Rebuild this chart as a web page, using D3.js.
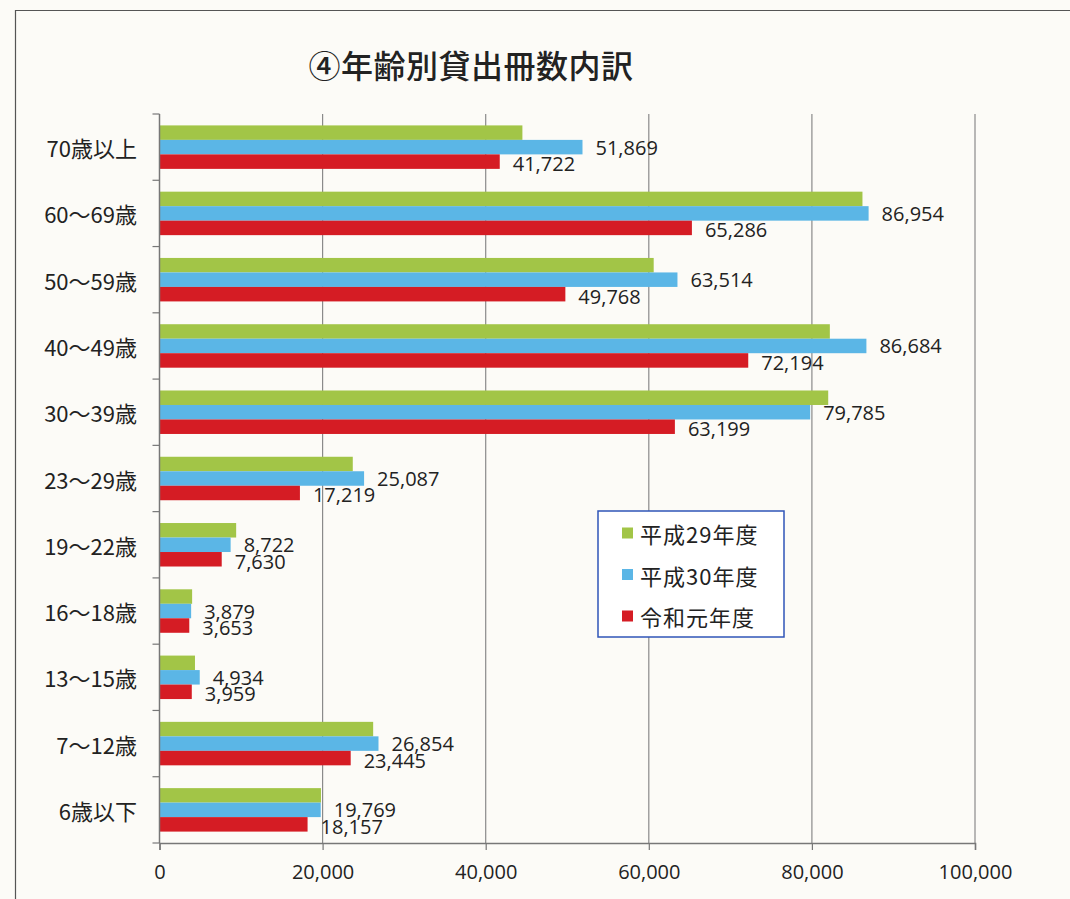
<!DOCTYPE html>
<html>
<head>
<meta charset="utf-8">
<script src="https://cdn.jsdelivr.net/npm/d3@7"></script>
<style>
  body { margin: 0; background: #fcfbf7; }
  svg { display: block; }
</style>
</head>
<body>
<div id="chart"></div>
<script>
// data, top to bottom as in the picture
const categories = ["70歳以上", "60～69歳", "50～59歳", "40～49歳", "30～39歳", "23～29歳",
  "19～22歳", "16～18歳", "13～15歳", "7～12歳", "6歳以下"];
const seriesNames = ["平成29年度", "平成30年度", "令和元年度"];
const h29 = [44500, 86200, 60600, 82200, 82000, 23700, 9400, 4000, 4350, 26200, 19800];
const h30 = [51869, 86954, 63514, 86684, 79785, 25087, 8722, 3879, 4934, 26854, 19769];
const r1 = [41722, 65286, 49768, 72194, 63199, 17219, 7630, 3653, 3959, 23445, 18157];
const xTicks = [0, 20000, 40000, 60000, 80000, 100000];
const labelled = [false, true, true]; // green series has no value labels

const colors = ["#a2c547", "#5bb6e6", "#d51c24"];
const width = 1070, height = 899;

const svg = d3.select("#chart").append("svg")
  .attr("width", width).attr("height", height);

// outer chart border (runs off the right / bottom of the scan)
svg.append("path")
  .attr("d", "M15.5," + height + "V10.5H" + width)
  .attr("fill", "none").attr("stroke", "#555").attr("stroke-width", 1.2);

svg.append("text")
  .attr("x", 471).attr("y", 64)
  .attr("text-anchor", "middle").attr("dominant-baseline", "central")
  .attr("font-family", "'Noto Sans CJK JP', sans-serif")
  .attr("font-size", 32).attr("font-weight", 500).attr("fill", "#222")
  .attr("letter-spacing", 0.5)
  .text("④年齢別貸出冊数内訳");

const plotL = 159.5, plotR = 975, plotT = 114, plotB = 843;

const x = d3.scaleLinear().domain([0, 100000]).range([plotL, plotR]);
const y = d3.scaleBand().domain(categories).range([plotT, plotB])
  .paddingInner(0.344).paddingOuter(0.172);
const ySub = d3.scaleBand().domain(d3.range(3)).range([0, y.bandwidth()]);

// vertical gridlines
svg.append("g").selectAll("line")
  .data(xTicks.slice(1))
  .join("line")
  .attr("x1", d => x(d)).attr("x2", d => x(d))
  .attr("y1", plotT).attr("y2", plotB)
  .attr("stroke", "#8a8a8a").attr("stroke-width", 1.2);

// bars
const series = [h29, h30, r1];
const rows = [];
series.forEach((vals, si) => {
  vals.forEach((v, ci) => rows.push({ si, cat: categories[ci], v }));
});

svg.append("g").selectAll("rect")
  .data(rows)
  .join("rect")
  .attr("x", x(0))
  .attr("y", d => y(d.cat) + ySub(d.si))
  .attr("width", d => x(d.v) - x(0))
  .attr("height", ySub.bandwidth())
  .attr("fill", d => colors[d.si]);

// value labels (blue a touch up, red a touch down, as in the scan)
const fmt = d3.format(",");
svg.append("g").selectAll("text")
  .data(rows.filter(d => labelled[d.si]))
  .join("text")
  .attr("x", d => x(d.v) + 13)
  .attr("y", d => y(d.cat) + ySub(d.si) + ySub.bandwidth() / 2 + (d.si === 1 ? 0 : 2))
  .attr("dominant-baseline", "central")
  .attr("font-family", "'Open Sans', sans-serif")
  .attr("font-size", 20).attr("fill", "#222")
  .text(d => fmt(d.v));

// bottom axis
const xAxis = d3.axisBottom(x).tickValues(xTicks).tickSize(7).tickPadding(15)
  .tickFormat(d3.format(","));
const gx = svg.append("g").attr("transform", "translate(0," + plotB + ")").call(xAxis);
gx.select(".domain").attr("stroke", "#777").attr("stroke-width", 1.5);
gx.selectAll(".tick line").attr("stroke", "#777").attr("stroke-width", 1.2);
gx.selectAll(".tick text")
  .attr("font-family", "'Open Sans', sans-serif")
  .attr("font-size", 20).attr("fill", "#222");

// left axis: ticks at category boundaries
const step = y.step();
const boundaries = d3.range(categories.length + 1).map(i => plotT + i * step);
svg.append("line")
  .attr("x1", plotL).attr("x2", plotL).attr("y1", plotT).attr("y2", plotB)
  .attr("stroke", "#777").attr("stroke-width", 1.5);
svg.append("g").selectAll("line")
  .data(boundaries)
  .join("line")
  .attr("x1", plotL - 7).attr("x2", plotL)
  .attr("y1", d => d).attr("y2", d => d)
  .attr("stroke", "#777").attr("stroke-width", 1.2);

svg.append("g").selectAll("text")
  .data(categories)
  .join("text")
  .attr("x", 137)
  .attr("y", d => y(d) + y.bandwidth() / 2)
  .attr("text-anchor", "end").attr("dominant-baseline", "central")
  .attr("font-family", "'Noto Sans CJK JP', sans-serif")
  .attr("font-size", 22).attr("fill", "#222")
  .text(d => d);

// legend
const legend = svg.append("g").attr("transform", "translate(598,511)");
legend.append("rect")
  .attr("width", 186).attr("height", 126)
  .attr("fill", "#fff").attr("stroke", "#2f55b8").attr("stroke-width", 1.5);
const item = legend.selectAll("g")
  .data(seriesNames)
  .join("g")
  .attr("transform", (d, i) => "translate(0," + (22 + i * 41.5) + ")");
item.append("rect")
  .attr("x", 24).attr("y", -5.5).attr("width", 11).attr("height", 11)
  .attr("fill", (d, i) => colors[i]);
item.append("text")
  .attr("x", 42).attr("dominant-baseline", "central")
  .attr("font-family", "'Noto Sans CJK JP', sans-serif")
  .attr("font-size", 22).attr("letter-spacing", 1).attr("fill", "#222")
  .text(d => d);
</script>
</body>
</html>
